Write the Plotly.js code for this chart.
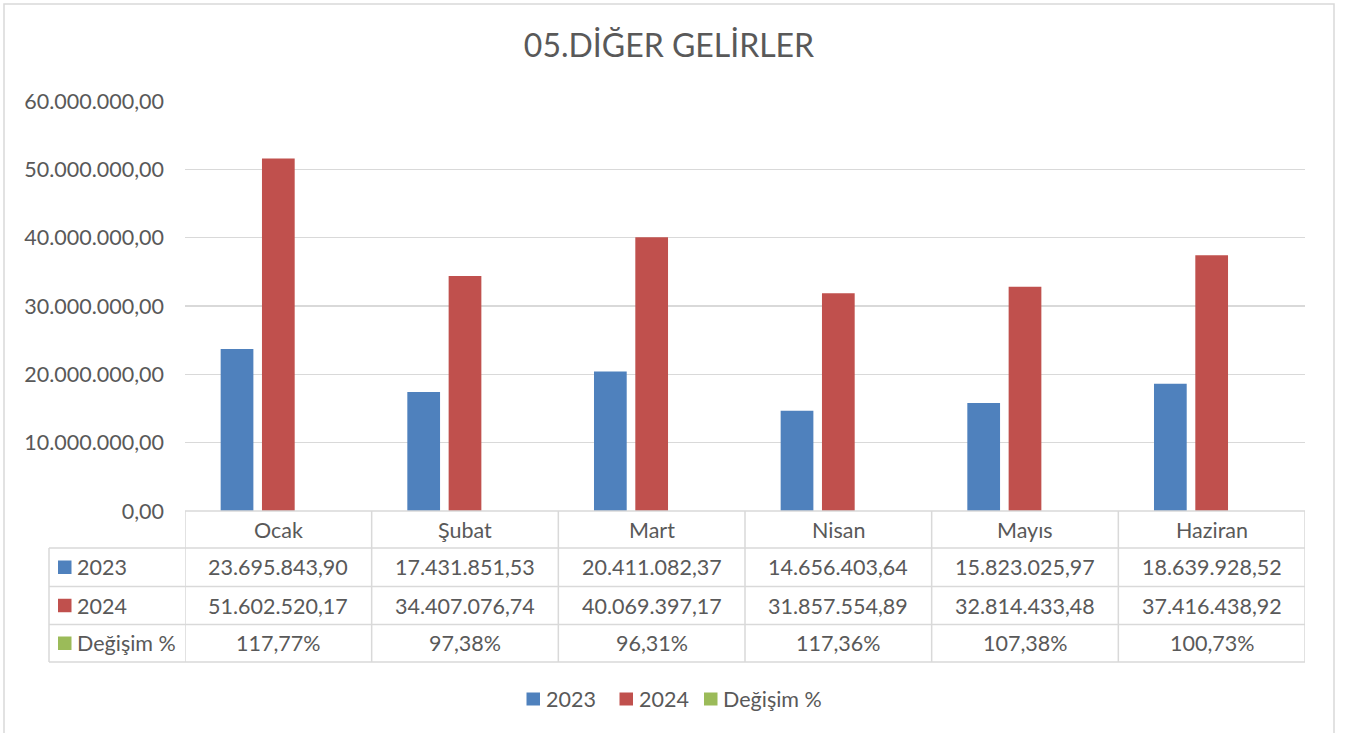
<!DOCTYPE html>
<html>
<head>
<meta charset="utf-8">
<script src="https://cdn.plot.ly/plotly-3.0.1.min.js"></script>
<style>html,body{margin:0;padding:0;background:#fff;}#chart{width:1349px;height:733px;}</style>
</head>
<body>
<div id="chart"></div>
<script>
const categories = ["Ocak", "Şubat", "Mart", "Nisan", "Mayıs", "Haziran"];
const seriesNames = ["2023", "2024", "Değişim %"];
const values2023 = [23695843.90, 17431851.53, 20411082.37, 14656403.64, 15823025.97, 18639928.52];
const values2024 = [51602520.17, 34407076.74, 40069397.17, 31857554.89, 32814433.48, 37416438.92];
const changePct = [117.77, 97.38, 96.31, 117.36, 107.38, 100.73];
const colors = ["#4F81BD", "#C0504D", "#9BBB59"];
const yTicks = [0, 10000000, 20000000, 30000000, 40000000, 50000000, 60000000];

const FONT = "Lato, Calibri, 'Open Sans', sans-serif";
const TXT = "#595959";
const GRID = "#D9D9D9";
const FS = 21.5;

function fmtNum(v) {
  const s = v.toFixed(2).split(".");
  const intPart = s[0].replace(/\B(?=(\d{3})+(?!\d))/g, ".");
  return intPart + "," + s[1];
}
function fmtPct(v) { return v.toFixed(2).replace(".", ",") + "%"; }

const traces = [
  {type: "bar", name: seriesNames[0], x: categories, y: values2023, marker: {color: colors[0]}},
  {type: "bar", name: seriesNames[1], x: categories, y: values2024, marker: {color: colors[1]}},
  {type: "bar", name: seriesNames[2], x: categories, y: changePct, marker: {color: colors[2]}}
];

// pixel -> paper helpers (plot area 185..1305 x, 101..511 y)
const L = 185, R = 1305, T = 101, B = 511;
const px = p => (p - L) / (R - L);
const py = p => (B - p) / (B - T);

const rowTops = [511, 548, 586.5, 624.5, 662];
const shapes = [];
const annotations = [];

// outer chart border
shapes.push({type: "rect", xref: "paper", yref: "paper", x0: px(4), x1: px(1334), y0: py(760), y1: py(4),
  line: {color: GRID, width: 1.5}, fillcolor: "rgba(0,0,0,0)", layer: "below"});

// table horizontal lines
rowTops.forEach((yy, i) => {
  shapes.push({type: "line", xref: "paper", yref: "paper",
    x0: i === 0 ? px(L) : px(49), x1: px(R), y0: py(yy), y1: py(yy),
    line: {color: GRID, width: 1.5}});
});
// vertical lines at category boundaries
for (let i = 0; i <= categories.length; i++) {
  shapes.push({type: "line", xref: "x", yref: "paper", x0: i - 0.5, x1: i - 0.5,
    y0: py(rowTops[4]), y1: py(rowTops[0]), line: {color: GRID, width: 1.5}});
}
// left edge of row-label column
shapes.push({type: "line", xref: "paper", yref: "paper", x0: px(49), x1: px(49),
  y0: py(rowTops[4]), y1: py(rowTops[1]), line: {color: GRID, width: 1.5}});

// category header text
categories.forEach((c, i) => {
  annotations.push({xref: "x", yref: "paper", x: i, y: py((rowTops[0] + rowTops[1]) / 2),
    text: c, showarrow: false, font: {family: FONT, size: FS, color: TXT}, xanchor: "center", yanchor: "middle"});
});
// rows
const rows = [values2023.map(fmtNum), values2024.map(fmtNum), changePct.map(fmtPct)];
rows.forEach((r, ri) => {
  const ymid = py((rowTops[ri + 1] + rowTops[ri + 2]) / 2);
  const h = 6.75 / (B - T);
  shapes.push({type: "rect", xref: "paper", yref: "paper", x0: px(58), x1: px(71.5),
    y0: ymid - h, y1: ymid + h, line: {width: 0}, fillcolor: colors[ri]});
  annotations.push({xref: "paper", yref: "paper", x: px(75), y: ymid, text: seriesNames[ri], showarrow: false,
    font: {family: FONT, size: FS, color: TXT}, xanchor: "left", yanchor: "middle"});
  r.forEach((t, ci) => {
    annotations.push({xref: "x", yref: "paper", x: ci, y: ymid, text: t, showarrow: false,
      font: {family: FONT, size: FS, color: TXT}, xanchor: "center", yanchor: "middle"});
  });
});

// bottom legend (drawn manually to match spacing)
const legendSquares = [526.5, 619.5, 704];
const legendY = py(699);
seriesNames.forEach((n, i) => {
  const h = 6.5 / (B - T);
  shapes.push({type: "rect", xref: "paper", yref: "paper", x0: px(legendSquares[i]), x1: px(legendSquares[i] + 13.5),
    y0: legendY - h, y1: legendY + h, line: {width: 0}, fillcolor: colors[i]});
  annotations.push({xref: "paper", yref: "paper", x: px(legendSquares[i] + 17), y: legendY, text: n, showarrow: false,
    font: {family: FONT, size: FS, color: TXT}, xanchor: "left", yanchor: "middle"});
});

const layout = {
  width: 1349, height: 733,
  margin: {l: L, r: 1349 - R, t: T, b: 733 - B, pad: 0},
  paper_bgcolor: "#fff", plot_bgcolor: "#fff",
  separators: ",.",
  font: {family: FONT, color: TXT},
  title: {text: "05.DİĞER GELİRLER", x: px(669), xref: "paper", xanchor: "center", y: 1 - 46 / 733, yanchor: "middle",
    font: {family: FONT, size: 32, color: TXT}},
  barmode: "group", bargap: 0.336, bargroupgap: 0.208,
  xaxis: {range: [-0.5, 5.5], showticklabels: false, ticks: "", showgrid: false, zeroline: false, showline: false, fixedrange: true},
  yaxis: {range: [0, 60000000], tickvals: yTicks, tickformat: ",.2f", showgrid: true, gridcolor: GRID, gridwidth: 1.5,
    zeroline: false, showline: false, ticks: "", ticklabelstandoff: 20,
    tickfont: {family: FONT, size: FS, color: TXT}},
  showlegend: false,
  shapes: shapes,
  annotations: annotations
};

Plotly.newPlot("chart", traces, layout, {displayModeBar: false, staticPlot: true});
</script>
</body>
</html>
